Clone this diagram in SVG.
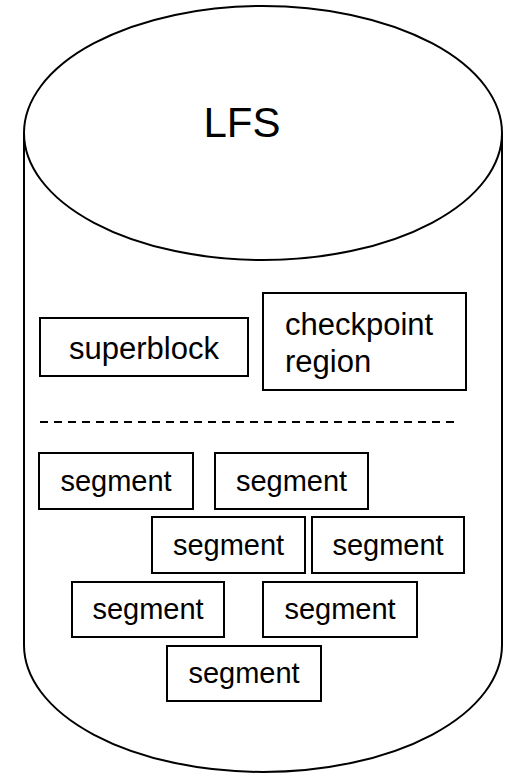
<svg xmlns="http://www.w3.org/2000/svg" width="506" height="774" viewBox="0 0 506 774">
  <style>
    .shape { fill: #ffffff; stroke: #000000; stroke-width: 2; }
    .box { fill: #ffffff; stroke: #000000; stroke-width: 2; }
    .lbl { font-family: "Liberation Sans", Arial, sans-serif; fill: #000000; text-anchor: middle; }
    .seg { font-size: 29px; }
    .big { font-size: 31px; }
  </style>
  <rect width="506" height="774" fill="#ffffff"/>

  <!-- storage cylinder -->
  <g id="lfs">
    <path class="shape" d="M24,133 L24,645 A239,127 0 0 0 502,645 L502,133"/>
    <ellipse class="shape" cx="263" cy="133" rx="239" ry="127"/>
    <text class="lbl" x="242" y="137" font-size="42">LFS</text>
  </g>

  <g id="superblock">
    <rect class="box" x="40" y="318" width="208" height="58"/>
    <text class="lbl big" x="144" y="359">superblock</text>
  </g>

  <g id="checkpoint-region">
    <rect class="box" x="263" y="293" width="203" height="97"/>
    <text class="lbl big" x="285" y="335" text-anchor="start" style="text-anchor:start">checkpoint</text>
    <text class="lbl big" x="285" y="372" style="text-anchor:start">region</text>
  </g>

  <!-- separator between metadata and log segments -->
  <g id="connectors">
    <line x1="40" y1="422" x2="454" y2="422" stroke="#000000" stroke-width="2" stroke-dasharray="8 6"/>
  </g>

  <g id="segment-1">
    <rect class="box" x="39" y="453" width="154" height="56"/>
    <text class="lbl seg" x="116" y="491">segment</text>
  </g>
  <g id="segment-2">
    <rect class="box" x="215" y="453" width="153" height="56"/>
    <text class="lbl seg" x="291.5" y="491">segment</text>
  </g>
  <g id="segment-3">
    <rect class="box" x="152" y="517" width="153" height="56"/>
    <text class="lbl seg" x="228.5" y="555">segment</text>
  </g>
  <g id="segment-4">
    <rect class="box" x="312" y="517" width="152" height="56"/>
    <text class="lbl seg" x="388" y="555">segment</text>
  </g>
  <g id="segment-5">
    <rect class="box" x="72" y="582" width="152" height="55"/>
    <text class="lbl seg" x="148" y="619">segment</text>
  </g>
  <g id="segment-6">
    <rect class="box" x="263" y="582" width="154" height="55"/>
    <text class="lbl seg" x="340" y="619">segment</text>
  </g>
  <g id="segment-7">
    <rect class="box" x="167" y="646" width="154" height="55"/>
    <text class="lbl seg" x="244" y="683">segment</text>
  </g>
</svg>
